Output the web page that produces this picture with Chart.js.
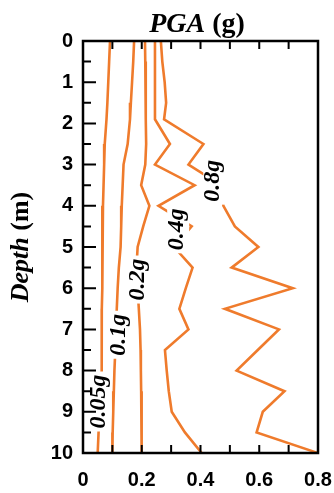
<!DOCTYPE html>
<html>
<head>
<meta charset="utf-8">
<script src="https://cdn.jsdelivr.net/npm/chart.js@4.4.0/dist/chart.umd.min.js"></script>
<style>
  html, body { margin: 0; padding: 0; background: #fff; }
</style>
</head>
<body>
<canvas id="myChart" width="334" height="493"></canvas>
<script>
//DATA:
const depths = [0, 0.5, 1, 1.5, 1.9, 2.5, 3, 3.5, 4, 4.5, 5, 5.5, 6, 6.5, 7, 7.5, 8, 8.5, 9, 9.5, 10];
const pga005 = [0.092, 0.089, 0.086, 0.083, 0.080, 0.074, 0.072, 0.070, 0.068, 0.067, 0.066, 0.065, 0.065, 0.064, 0.064, 0.064, 0.063, 0.060, 0.056, 0.053, 0.050];
const pga01 = [0.174, 0.171, 0.167, 0.163, 0.160, 0.152, 0.138, 0.135, 0.132, 0.130, 0.128, 0.122, 0.118, 0.115, 0.112, 0.110, 0.107, 0.105, 0.103, 0.101, 0.100];
const pga02 = [0.211, 0.212, 0.213, 0.214, 0.214, 0.215, 0.212, 0.198, 0.226, 0.205, 0.186, 0.182, 0.186, 0.190, 0.194, 0.196, 0.197, 0.198, 0.199, 0.200, 0.200];
const pga04 = [0.245, 0.245, 0.245, 0.245, 0.245, 0.296, 0.245, 0.380, 0.257, 0.370, 0.310, 0.373, 0.350, 0.328, 0.359, 0.279, 0.285, 0.292, 0.302, 0.347, 0.404];
const pga08 = [0.265, 0.270, 0.278, 0.283, 0.276, 0.410, 0.359, 0.470, 0.478, 0.517, 0.597, 0.506, 0.714, 0.483, 0.667, 0.595, 0.523, 0.686, 0.612, 0.591, 0.800];
const inputLevels = ['0.05g', '0.1g', '0.2g', '0.4g', '0.8g'];
const xTicks = [0, 0.2, 0.4, 0.6, 0.8];
const yTicks = [0, 1, 2, 3, 4, 5, 6, 7, 8, 9, 10];

//STYLE:
const lineColor = '#EF7B2C';
const serif = '"Liberation Serif", "Times New Roman", serif';
const sans = '"Liberation Sans", Arial, sans-serif';

// where each level name sits on its own curve (pga, depth)
const labelSpots = [[0.058, 8.75], [0.126, 7.13], [0.191, 5.79], [0.324, 4.57], [0.447, 3.39]];

function makePoints(values) {
  return values.map((v, i) => ({x: v, y: depths[i]}));
}

const allSeries = [pga005, pga01, pga02, pga04, pga08];

const datasets = allSeries.map((values, i) => ({
  label: inputLevels[i],
  data: makePoints(values),
  showLine: true,
  borderColor: lineColor,
  borderWidth: 2.6,
  pointRadius: 0,
  tension: 0,
  fill: false
}));

//PLUGINS:
const curveLabels = {
  id: 'curveLabels',
  afterDatasetsDraw(chart) {
    const {ctx, scales: {x, y}} = chart;
    ctx.save();
    ctx.font = 'italic bold 24px ' + serif;
    inputLevels.forEach((text, i) => {
      const px = x.getPixelForValue(labelSpots[i][0]);
      const py = y.getPixelForValue(labelSpots[i][1]);
      const m = ctx.measureText(text);
      const asc = m.actualBoundingBoxAscent;
      const desc = m.actualBoundingBoxDescent;
      ctx.save();
      ctx.translate(px, py);
      ctx.rotate(-Math.PI / 2);
      ctx.fillStyle = '#fff';
      ctx.fillRect(-m.width / 2 - 3, -(asc + desc) / 2 - 1, m.width + 6, asc + desc + 2);
      ctx.fillStyle = '#000';
      ctx.textBaseline = 'alphabetic';
      ctx.textAlign = 'center';
      ctx.fillText(text, 0, (asc - desc) / 2);
      ctx.restore();
    });
    ctx.restore();
  }
};

const frameAndTitles = {
  id: 'frameAndTitles',
  afterDraw(chart) {
    const {ctx, chartArea: a, scales: {x, y}} = chart;
    ctx.save();
    ctx.strokeStyle = '#000';
    ctx.lineWidth = 2.5;
    ctx.strokeRect(a.left, a.top, a.right - a.left, a.bottom - a.top);

    // inward ticks
    ctx.lineWidth = 2;
    ctx.beginPath();
    for (let i = 1; i < 8; i++) {
      const px = x.getPixelForValue(i * 0.1);
      ctx.moveTo(px, a.top);
      ctx.lineTo(px, a.top + 8);
      ctx.moveTo(px, a.bottom);
      ctx.lineTo(px, a.bottom - 8);
    }
    for (let i = 1; i < 20; i++) {
      const py = y.getPixelForValue(i * 0.5);
      const len = i % 2 === 0 ? 13 : 8;
      ctx.moveTo(a.left, py);
      ctx.lineTo(a.left + len, py);
    }
    ctx.stroke();

    // top title: PGA (g)
    ctx.fillStyle = '#000';
    ctx.textBaseline = 'alphabetic';
    ctx.textAlign = 'left';
    const fItal = 'italic bold 28px ' + serif;
    const fBold = 'bold 28px ' + serif;
    ctx.font = fItal;
    const w1 = ctx.measureText('PGA').width;
    ctx.font = fBold;
    const w2 = ctx.measureText(' (g)').width;
    let tx = 197 - (w1 + w2) / 2;
    ctx.font = fItal;
    ctx.fillText('PGA', tx, 32);
    ctx.font = fBold;
    ctx.fillText(' (g)', tx + w1, 32);

    // left title: Depth (m)
    ctx.save();
    ctx.translate(28, (a.top + a.bottom) / 2);
    ctx.rotate(-Math.PI / 2);
    ctx.font = 'italic bold 26px ' + serif;
    const w3 = ctx.measureText('Depth').width;
    ctx.font = 'bold 26px ' + serif;
    const w4 = ctx.measureText(' (m)').width;
    tx = -(w3 + w4) / 2;
    ctx.font = 'italic bold 26px ' + serif;
    ctx.fillText('Depth', tx, 0);
    ctx.font = 'bold 26px ' + serif;
    ctx.fillText(' (m)', tx + w3, 0);
    ctx.restore();
    ctx.restore();
  }
};

//CHART:
const chartLayout = document.getElementById('myChart');
const myChart = new Chart(chartLayout, {
  type: 'scatter',
  data: {datasets: datasets},
  options: {
    responsive: false,
    animation: false,
    devicePixelRatio: 1,
    layout: {padding: {top: 41, right: 0, left: 0, bottom: 0}},
    plugins: {
      legend: {display: false},
      tooltip: {enabled: false}
    },
    scales: {
      x: {
        type: 'linear',
        position: 'bottom',
        min: xTicks[0],
        max: xTicks[xTicks.length - 1],
        afterBuildTicks: (scale) => { scale.ticks = xTicks.map(v => ({value: v})); },
        afterFit: (scale) => {
          scale.height = 40;
          scale.paddingLeft = 0;
          scale.paddingRight = 16;
        },
        grid: {display: false, drawTicks: false},
        border: {display: false},
        ticks: {
          padding: 15,
          color: '#000',
          font: {family: sans, size: 20, weight: 'bold'},
          callback: (v) => v === 0 ? '0' : v.toFixed(1)
        }
      },
      y: {
        type: 'linear',
        reverse: true,
        min: yTicks[0],
        max: yTicks[yTicks.length - 1],
        afterBuildTicks: (scale) => { scale.ticks = yTicks.map(v => ({value: v})); },
        afterFit: (scale) => { scale.width = 83; },
        grid: {display: false, drawTicks: false},
        border: {display: false},
        ticks: {
          padding: 10,
          color: '#000',
          font: {family: sans, size: 20, weight: 'bold'},
          callback: (v) => String(v)
        }
      }
    }
  },
  plugins: [curveLabels, frameAndTitles]
});
</script>
</body>
</html>
